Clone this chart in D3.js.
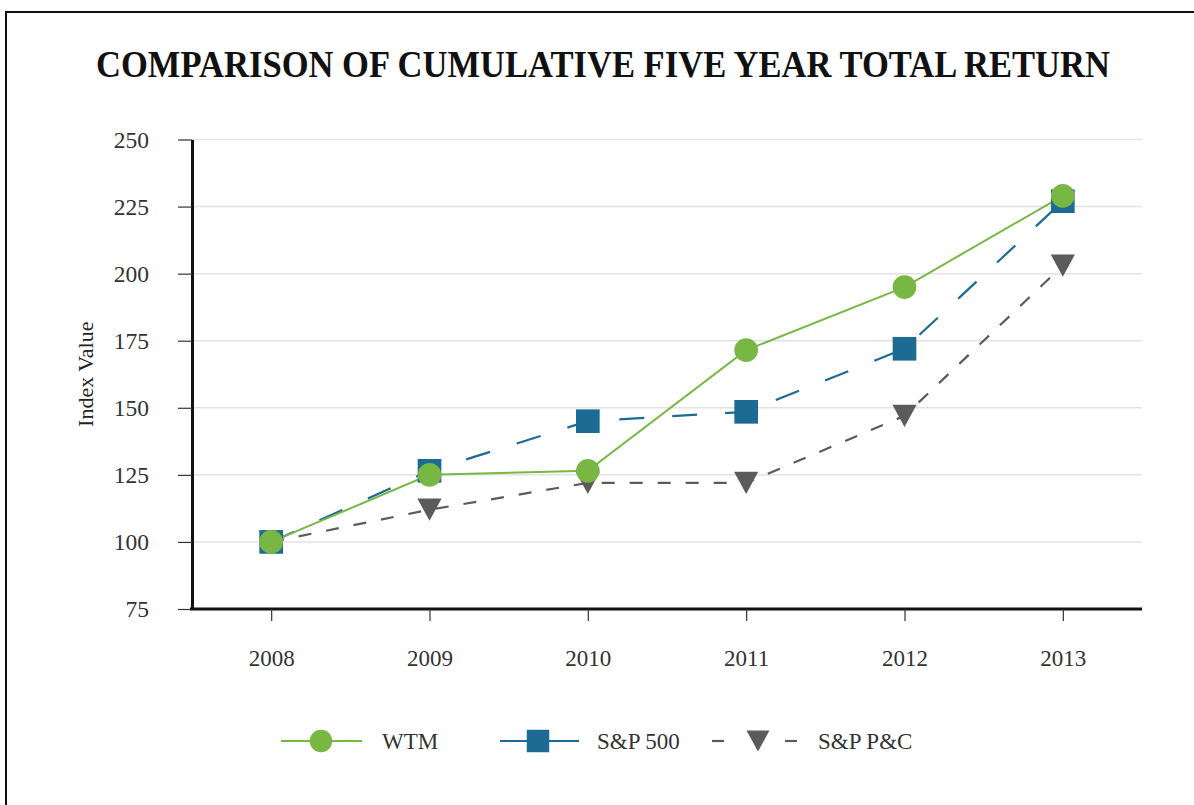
<!DOCTYPE html>
<html>
<head>
<meta charset="utf-8">
<script src="https://cdn.jsdelivr.net/npm/d3@7"></script>
<style>
  html, body { margin: 0; padding: 0; background: #fff; }
  svg { display: block; }
  text { font-family: "Liberation Serif", "DejaVu Serif", serif; }
</style>
</head>
<body>
<svg id="chart" width="1194" height="805"></svg>
<script>
// Data
const YEARS = ['2008', '2009', '2010', '2011', '2012', '2013'];
const WTM = [100, 125, 126.5, 171.5, 195, 229];
const SP500 = [100, 126.5, 145, 148.5, 172, 227];
const SPPC = [100, 112, 122, 122, 147, 203];
const Y_TICKS = [75, 100, 125, 150, 175, 200, 225, 250];

const GREEN = '#79b745';
const BLUE = '#1d6a94';
const GRAY = '#5b5b5b';

const width = 1194, height = 805;
const margin = { left: 192, right: 52, top: 139.5, bottom: 196 };

const svg = d3.select('#chart');

// Page frame (top and left edges only, as in the scan)
svg.append('path')
  .attr('d', `M6,${height} L6,12 L${width},12`)
  .attr('fill', 'none').attr('stroke', '#111').attr('stroke-width', 2);

// Title (stretched vertically to mimic the condensed original face)
svg.append('text')
  .attr('transform', 'translate(603,77) scale(1,1.22)')
  .attr('text-anchor', 'middle')
  .attr('font-size', 31).attr('font-weight', 'bold').attr('fill', '#111')
  .attr('textLength', 1014).attr('lengthAdjust', 'spacingAndGlyphs')
  .text('COMPARISON OF CUMULATIVE FIVE YEAR TOTAL RETURN');

const x = d3.scalePoint()
  .domain(YEARS)
  .range([margin.left, width - margin.right])
  .padding(0.5);

const y = d3.scaleLinear()
  .domain([75, 250])
  .range([height - margin.bottom, margin.top]);

// Gridlines
svg.append('g')
  .selectAll('line')
  .data(Y_TICKS.filter(d => d > 75))
  .join('line')
  .attr('x1', margin.left).attr('x2', width - margin.right)
  .attr('y1', d => y(d)).attr('y2', d => y(d))
  .attr('stroke', '#e2e2e2').attr('stroke-width', 1.5);

// Y axis
const yAxis = svg.append('g')
  .attr('transform', `translate(${margin.left},0)`)
  .call(d3.axisLeft(y).tickValues(Y_TICKS).tickSize(14).tickPadding(29).tickSizeOuter(0));
yAxis.select('.domain').attr('stroke', '#111').attr('stroke-width', 3);
yAxis.selectAll('.tick line').attr('stroke', '#333').attr('stroke-width', 1.2);
yAxis.selectAll('.tick text')
  .attr('font-size', 23.5).attr('fill', '#333')
  .style('font-family', '"Liberation Serif", serif');

// X axis
const xAxis = svg.append('g')
  .attr('transform', `translate(0,${height - margin.bottom})`)
  .call(d3.axisBottom(x).tickSize(12).tickPadding(29).tickSizeOuter(0));
xAxis.select('.domain')
  .attr('d', `M${margin.left - 2},0H${width - margin.right}`)
  .attr('stroke', '#111').attr('stroke-width', 3);
xAxis.selectAll('.tick line').attr('stroke', '#333').attr('stroke-width', 1.2);
xAxis.selectAll('.tick text')
  .attr('font-size', 23).attr('fill', '#333')
  .style('font-family', '"Liberation Serif", serif');

// Y axis title
svg.append('text')
  .attr('transform', `translate(93,${(margin.top + height - margin.bottom) / 2}) rotate(-90)`)
  .attr('text-anchor', 'middle')
  .attr('font-size', 22).attr('fill', '#222')
  .text('Index Value');

// Series
const series = [
  { name: 'S&P P&C', values: SPPC, color: GRAY, dash: '13,15', width: 2.2, marker: 'triangle' },
  { name: 'S&P 500', values: SP500, color: BLUE, dash: '25,28', width: 2.2, marker: 'square' },
  { name: 'WTM', values: WTM, color: GREEN, dash: null, width: 2, marker: 'circle' }
];

const line = d3.line()
  .x((d, i) => x(YEARS[i]))
  .y(d => y(d));

// Downward triangle centred on its bounding box
const downTriangle = {
  draw(context, size) {
    const w = Math.sqrt(size) * 1.05, h = w * 0.92;
    context.moveTo(-w / 2, -h / 2);
    context.lineTo(w / 2, -h / 2);
    context.lineTo(0, h / 2);
    context.closePath();
  }
};

const symbolFor = {
  circle: d3.symbol(d3.symbolCircle, 440),
  square: d3.symbol(d3.symbolSquare, 560),
  triangle: d3.symbol(downTriangle, 530)
};

function drawMarker(g, s, cx, cy, scale = 1) {
  return g.append('path')
    .attr('d', symbolFor[s.marker]())
    .attr('fill', s.color)
    .attr('transform', `translate(${cx},${cy}) scale(${scale})`);
}

series.forEach(s => {
  svg.append('path')
    .datum(s.values)
    .attr('d', line)
    .attr('fill', 'none')
    .attr('stroke', s.color)
    .attr('stroke-width', s.width)
    .attr('stroke-dasharray', s.dash);
});

series.forEach(s => {
  const g = svg.append('g');
  s.values.forEach((v, i) => drawMarker(g, s, x(YEARS[i]), y(v)));
});

// Legend
const legendItems = [
  { s: series[2], x0: 281, x1: 362, mid: 321, text: 'WTM', tx: 382, dashed: false },
  { s: series[1], x0: 500, x1: 579, mid: 538, text: 'S&P 500', tx: 597, dashed: false },
  { s: series[0], x0: 712, x1: 797, mid: 758, text: 'S&P P&C', tx: 818, dashed: true }
];
const ly = 741;
legendItems.forEach(item => {
  const g = svg.append('g');
  if (item.dashed) {
    g.append('line').attr('x1', item.x0).attr('x2', item.x0 + 12).attr('y1', ly).attr('y2', ly)
      .attr('stroke', item.s.color).attr('stroke-width', 2.2);
    g.append('line').attr('x1', item.x1 - 12).attr('x2', item.x1).attr('y1', ly).attr('y2', ly)
      .attr('stroke', item.s.color).attr('stroke-width', 2.2);
  } else {
    g.append('line').attr('x1', item.x0).attr('x2', item.x1).attr('y1', ly).attr('y2', ly)
      .attr('stroke', item.s.color).attr('stroke-width', 2);
  }
  drawMarker(g, item.s, item.mid, ly, 0.95);
  g.append('text')
    .attr('x', item.tx).attr('y', ly + 8)
    .attr('font-size', 23).attr('fill', '#333')
    .text(item.text);
});
</script>
</body>
</html>
